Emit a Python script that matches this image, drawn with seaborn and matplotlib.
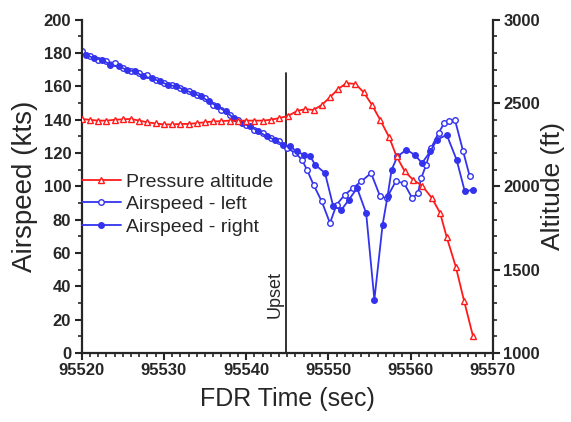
import matplotlib
matplotlib.use("Agg")
import matplotlib.pyplot as plt
import seaborn as sns
import pandas as pd
from matplotlib.ticker import MultipleLocator

# ---------------- data ----------------
alt_time = [95520, 95521, 95522, 95523, 95524, 95525, 95526, 95527, 95528, 95529,
            95530, 95531, 95532, 95533, 95534, 95535, 95536, 95537, 95538, 95539,
            95540, 95541, 95542, 95543, 95544,
            95545.1, 95546.2, 95547.2, 95548.2, 95549.2, 95550.2, 95551.2, 95552.2,
            95553.3, 95554.3, 95555.3, 95556.3, 95557.4, 95558.3, 95559.3, 95560.3,
            95561.4, 95562.6, 95563.6, 95564.4, 95565.5, 95566.5, 95567.6]
alt_ft = [2405, 2400, 2395, 2395, 2400, 2403, 2405, 2395, 2385, 2378,
          2372, 2372, 2375, 2375, 2380, 2385, 2390, 2392, 2395, 2395,
          2395, 2395, 2395, 2400, 2410,
          2423, 2453, 2464, 2459, 2489, 2535, 2585, 2620,
          2615, 2565, 2490, 2400, 2295, 2180, 2090, 2040,
          2005, 1930, 1840, 1695, 1518, 1315, 1100]

left_time = [95520, 95521, 95522, 95523, 95524, 95525, 95526, 95527, 95528, 95529,
             95530, 95531, 95532, 95533, 95534, 95535, 95536, 95537, 95538, 95539,
             95540, 95541, 95542, 95543, 95544,
             95545.0, 95546.0, 95546.8, 95547.4, 95548.2, 95549.2, 95550.2, 95551.0,
             95552.0, 95553.0, 95554.0, 95555.2, 95556.3, 95557.1, 95558.2, 95559.2,
             95560.2, 95560.9, 95561.3, 95561.9, 95562.5, 95563.4, 95564.1, 95564.7,
             95565.4, 95566.4, 95567.2]
left_kts = [181, 178, 176, 175, 174, 171, 169, 168, 167, 164,
            162, 161, 159, 157, 155, 153, 149, 146, 143, 140,
            137, 134, 132, 129, 127,
            123, 120, 116, 110, 101, 91, 78, 89,
            95, 99, 103, 108, 94, 93, 103, 102,
            93, 96, 105, 113, 123, 132, 138, 139,
            140, 121, 106]

right_time = [95520.5, 95521.5, 95522.5, 95523.5, 95524.5, 95525.5, 95526.5, 95527.5,
              95528.5, 95529.5, 95530.5, 95531.5, 95532.5, 95533.5, 95534.5, 95535.5,
              95536.5, 95537.5, 95538.5, 95539.5, 95540.5, 95541.5, 95542.5, 95543.5,
              95544.5,
              95545.3, 95546.2, 95547.0, 95547.8, 95548.4, 95549.6, 95550.6, 95551.6,
              95552.5, 95553.5, 95554.6, 95555.6, 95556.6, 95557.2, 95557.7, 95558.4,
              95559.5, 95560.5, 95561.4, 95562.4, 95563.2, 95564.4, 95565.6, 95566.6,
              95567.6]
right_kts = [179, 177, 176, 173, 172, 170, 169, 166, 165, 163,
             161, 160, 158, 156, 154, 151, 148, 145, 141, 138,
             136, 133, 130, 128, 125,
             124, 121, 119, 118, 113, 108, 88, 86,
             92, 99, 84, 32, 77, 94, 110, 118,
             122, 119, 114, 121, 128, 131, 116, 97,
             98]

upset_time = 95544.8
upset_label = "Upset"

x_ticks = [95520, 95530, 95540, 95550, 95560, 95570]
y_ticks = [0, 20, 40, 60, 80, 100, 120, 140, 160, 180, 200]
alt_ticks = [1000, 1500, 2000, 2500, 3000]

# ---------------- style ----------------
sns.set_style("ticks")
plt.rcParams["font.family"] = ["Liberation Sans", "DejaVu Sans"]

RED = "#FF1A1A"
BLUE = "#3333EE"

df_alt = pd.DataFrame({"t": alt_time, "alt": alt_ft})
df_left = pd.DataFrame({"t": left_time, "kts": left_kts})
df_right = pd.DataFrame({"t": right_time, "kts": right_kts})

fig = plt.figure(figsize=(5.71, 4.22), dpi=100)
ax = fig.add_axes([0.143, 0.1635, 0.72, 0.7895])
ax2 = ax.twinx()

sns.lineplot(data=df_left, x="t", y="kts", ax=ax, color=BLUE, linewidth=1.3,
             marker="o", markersize=4, markerfacecolor="white",
             markeredgecolor=BLUE, markeredgewidth=1.0, label="Airspeed - left",
             sort=False, legend=False)
sns.lineplot(data=df_right, x="t", y="kts", ax=ax, color=BLUE, linewidth=1.3,
             marker="o", markersize=4, markerfacecolor=BLUE,
             markeredgecolor=BLUE, markeredgewidth=1.0, label="Airspeed - right",
             sort=False, legend=False)
sns.lineplot(data=df_alt, x="t", y="alt", ax=ax2, color=RED, linewidth=1.3,
             marker="^", markersize=4.5, markerfacecolor="white",
             markeredgecolor=RED, markeredgewidth=1.0, label="Pressure altitude",
             sort=False, legend=False)

for a in (ax, ax2):
    if a.get_legend() is not None:
        a.get_legend().remove()

# Upset marker line
ax.axvline(upset_time, ymin=0, ymax=0.84, color="#222222", linewidth=1.3, zorder=1)
ax.text(upset_time - 0.25, 35, upset_label, rotation=90, ha="right", va="center",
        fontsize=13)

# axes limits and ticks
ax.set_xlim(95520, 95570)
ax.set_ylim(0, 200)
ax2.set_ylim(1000, 3000)
ax.set_xticks(x_ticks)
ax.set_xticklabels([str(v) for v in x_ticks])
ax.set_yticks(y_ticks)
ax2.set_yticks(alt_ticks)
ax.xaxis.set_minor_locator(MultipleLocator(1))
ax.yaxis.set_minor_locator(MultipleLocator(10))
ax2.yaxis.set_minor_locator(MultipleLocator(100))

for a in (ax, ax2):
    a.spines["top"].set_visible(False)
    for s in ("left", "right", "bottom"):
        a.spines[s].set_linewidth(1.6)
    a.tick_params(which="major", length=5, width=1.5, direction="out",
                  labelsize=12, pad=2.5)
    a.tick_params(which="minor", length=3, width=1.2, direction="out")
    for lab in a.get_xticklabels() + a.get_yticklabels():
        lab.set_fontweight("bold")
ax2.spines["left"].set_visible(False)
ax2.spines["bottom"].set_visible(False)
ax.spines["right"].set_visible(False)

ax.set_xlabel("FDR Time (sec)", fontsize=18, labelpad=6)
ax.set_ylabel("Airspeed (kts)", fontsize=20, labelpad=4)
ax2.set_ylabel("Altitude (ft)", fontsize=19, labelpad=1)

# legend (altitude first)
h1, l1 = ax.get_legend_handles_labels()
h2, l2 = ax2.get_legend_handles_labels()
leg = ax2.legend(h2 + h1, l2 + l1, loc="upper left",
                 bbox_to_anchor=(0.0, 0.54), frameon=False, fontsize=14,
                 handlelength=2.0, handletextpad=0.3, labelspacing=0.25,
                 borderpad=0.0, borderaxespad=0.0)

fig.savefig("out.png", dpi=100)
